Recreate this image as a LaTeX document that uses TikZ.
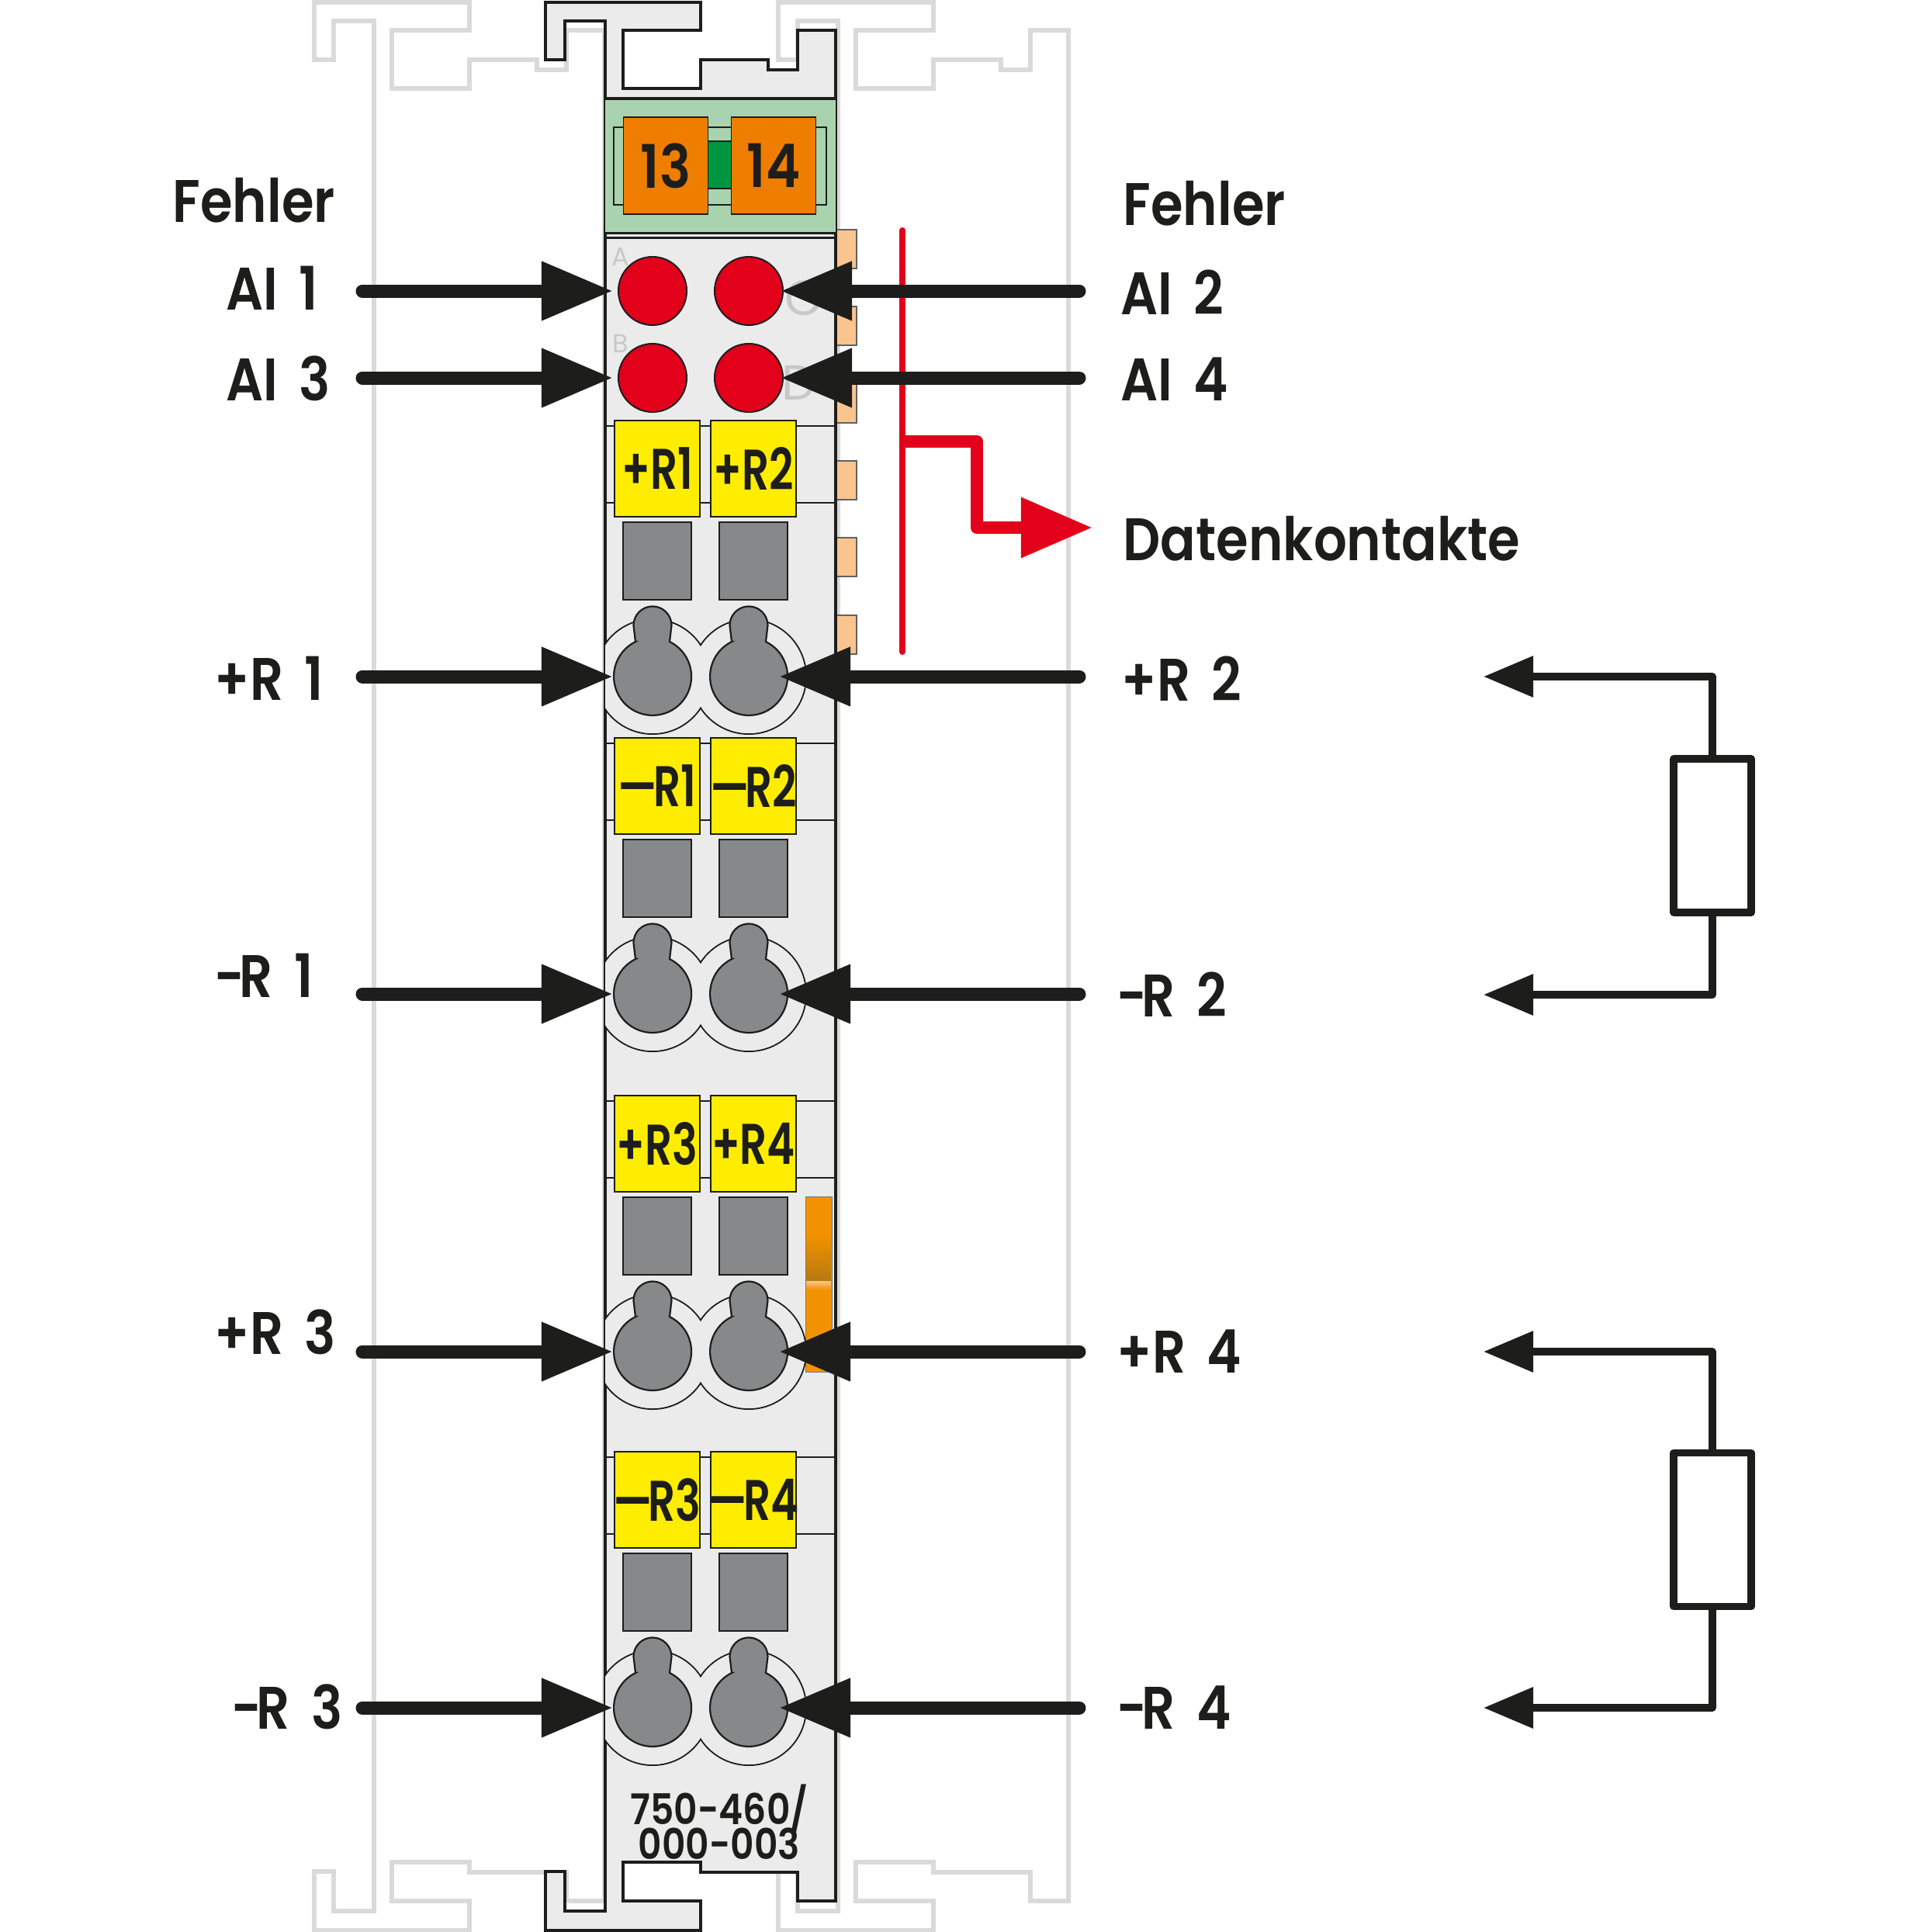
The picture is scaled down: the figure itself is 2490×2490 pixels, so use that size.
\documentclass[tikz,border=0pt]{standalone}
\usepackage{fontspec}
\setmainfont{Poppins}
\newfontfamily\labelfont[FakeStretch=0.87,WordSpace=1.7]{Poppins SemiBold}
\newfontfamily\tagfont[FakeStretch=0.74]{Poppins SemiBold}
\newfontfamily\digitfont[FakeStretch=0.865]{Poppins SemiBold}
\usetikzlibrary{arrows.meta}
\definecolor{inkblack}{HTML}{1D1D1B}
\definecolor{ghostgrey}{HTML}{DADADB}
\definecolor{bodygrey}{HTML}{EBEBEC}
\definecolor{clampgrey}{HTML}{87888A}
\definecolor{tagyellow}{HTML}{FFED00}
\definecolor{ledred}{HTML}{E2001A}
\definecolor{tagorange}{HTML}{EF7D00}
\definecolor{sliderorange}{HTML}{F39200}
\definecolor{sliderbrown}{HTML}{B87A10}
\definecolor{tabpeach}{HTML}{F9C48E}
\definecolor{palegreen}{HTML}{A9D3AE}
\definecolor{darkgreen}{HTML}{009640}
\definecolor{lettergrey}{HTML}{C8C8C9}
\tikzset{
  ghostline/.style={draw=ghostgrey,line width=0.055cm},
  thinline/.style={draw=inkblack,line width=0.02cm},
  tabbox/.style={draw=inkblack!70,fill=tabpeach,line width=0.015cm},
  tagbox/.style={draw=inkblack,fill=tagyellow,line width=0.02cm,minimum width=1.1cm,minimum height=1.24cm,inner sep=0pt,text=inkblack,font=\tagfont\fontsize{21}{21}\selectfont},
  clampbox/.style={draw=inkblack,fill=clampgrey,line width=0.02cm,minimum width=0.88cm,minimum height=1cm,inner sep=0pt},
  numbox/.style={draw=inkblack,fill=tagorange,line width=0.015cm,minimum width=1.09cm,minimum height=1.25cm,inner sep=0pt,text=inkblack,font=\digitfont\fontsize{22}{22}\selectfont},
  led/.style={circle,draw=inkblack,fill=ledred,line width=0.02cm,minimum size=0.88cm,inner sep=0pt},
  knob/.style={draw=inkblack,fill=clampgrey,line width=0.022cm},
  wire/.style={draw=inkblack,line width=0.17cm,line cap=round,-{Triangle[length=0.92cm,width=0.72cm]}},
  backwire/.style={draw=inkblack,line width=0.095cm,line join=round,-{Triangle[length=0.64cm,width=0.51cm]}},
  resistor/.style={draw=inkblack,fill=white,line width=0.095cm,line join=round,minimum width=1cm,minimum height=1.98cm,inner sep=0pt},
  lbl/.style={anchor=base west,inner sep=0pt,text=inkblack,font=\labelfont\fontsize{22}{26}\selectfont},
  modeltext/.style={inner sep=0pt,align=center,text=inkblack,font=\digitfont\fontsize{15.5}{16}\selectfont},
  faint/.style={inner sep=0pt,text=lettergrey}
}
% outline of one module, also used for the neighbours
\newcommand{\railpath}{(703,3) -- (903,3) -- (903,39) -- (803,39) -- (803,114) -- (903,114) -- (903,77) -- (990,77) -- (990,90) -- (1028,90) -- (1028,39) -- (1077,39) -- (1077,2450) -- (1028,2450) -- (1028,2413) -- (903,2413) -- (903,2400) -- (803,2400) -- (803,2450) -- (903,2450) -- (903,2488) -- (703,2488) -- (703,2412) -- (728,2412) -- (728,2463) -- (780,2463) -- (780,27) -- (728,27) -- (728,77) -- (703,77) -- cycle}
\newcommand{\rdash}{—\kern-1.5pt}
\newcommand{\rminus}{-\kern-2pt}
\begin{document}
\begin{tikzpicture}[x=0.01cm,y=-0.01cm]
\useasboundingbox (0,0) rectangle (2490,2490);
% neighbours and module body
\foreach \dx in {-298,300}
  \draw[ghostline,shift={(\dx,0)}] \railpath;
\foreach \ty in {296,395,495,594,693,793}
  \draw[tabbox] (1070,\ty) rectangle (1104,\ty+50);
\draw[draw=inkblack,fill=bodygrey,line width=0.045cm,line join=miter] \railpath;
% marker strip
\fill[palegreen] (780,127) rectangle (1077,300);
\draw[draw=inkblack,line width=0.035cm] (780,127) -- (1077,127);
\draw[draw=inkblack,line width=0.03cm] (780,300) -- (1077,300);
\draw[draw=inkblack,line width=0.03cm] (780,306) -- (1077,306);
\draw[thinline,fill=palegreen] (791,164) rectangle (1065,264);
\draw[thinline,fill=darkgreen] (905,182) rectangle (950,243);
\node[numbox] (numA) at (858,213.5) {\raisebox{-0.9pt}{13}};
\node[numbox] (numB) at (997,213.5) {\raisebox{-0.9pt}{14}};
% letters and LEDs
\node[faint,font=\fontsize{9.5}{10}\selectfont] (letA) at (800,331) {A};
\node[faint,font=\fontsize{9.5}{10}\selectfont] (letB) at (800,443) {B};
\node[faint,font=\fontsize{18}{18}\selectfont] (letC) at (1036,384) {C};
\node[faint,font=\fontsize{18}{18}\selectfont] (letD) at (1030,493) {D};
\node[led] (ledA) at (841,375) {};
\node[led] (ledC) at (965,375) {};
\node[led] (ledB) at (841,487) {};
\node[led] (ledD) at (965,487) {};
% sliding marker
\draw[draw=inkblack!60,fill=sliderorange,line width=0.01cm] (1038,1542) rectangle (1072,1768);
\shade[top color=sliderorange,bottom color=sliderbrown] (1039,1590) rectangle (1071,1650);
\shade[top color=tabpeach,bottom color=sliderorange] (1039,1651) rectangle (1071,1662);
% the four terminal blocks
\foreach \n/\cy/\ta/\tb in {1/872/+R1/+R2,2/1281/\rdash R1/\rdash R2,3/1742/+R3/+R4,4/2201/\rdash R3/\rdash R4}{
  \begin{scope}[shift={(0,\cy-872)}]
    \draw[thinline] (780,549) -- (1076,549);
    \draw[thinline] (780,648) -- (1076,648);
    \begin{scope}
      \clip (780,780) rectangle (1076,960);
      \draw[thinline] (841,872) circle[radius=74];
      \draw[thinline] (965,872) circle[radius=74];
      \fill[bodygrey] (841,872) circle[radius=73];
      \fill[bodygrey] (965,872) circle[radius=73];
    \end{scope}
    \node[tagbox] (tagA\n) at (847,604) {\makebox[0pt][c]{\ta}};
    \node[tagbox] (tagB\n) at (971,604) {\makebox[0pt][c]{\tb}};
    \node[clampbox] (clampA\n) at (847,723) {};
    \node[clampbox] (clampB\n) at (971,723) {};
    \foreach \cx in {841,965}
      \draw[knob] (\cx-22,827) -- (\cx-24.5,806) arc (180:360:24.5) -- (\cx+22,827) arc (-64:244:50) -- cycle;
  \end{scope}
}
% data contact bus
\coordinate (busTop) at (1163,297);
\coordinate (busEnd) at (1163,840);
\coordinate (busTap) at (1163,569);
\coordinate (busBend) at (1259,569);
\coordinate (busLow) at (1259,680);
\coordinate (busTip) at (1408,680);
\draw[draw=ledred,line width=0.08cm,line cap=round] (busTop) -- (busEnd);
\draw[draw=ledred,line width=0.16cm,line join=round,-{Triangle[length=0.92cm,width=0.74cm]}] (busTap) -- (busBend) -- (busLow) -- (busTip);
% input arrows
\foreach \n/\y/\tipr in {1/375/1006,2/487/1006,3/872/1004,4/1281/1004,5/1742/1004,6/2201/1004}{
  \coordinate (startL\n) at (467,\y);
  \coordinate (tipL\n) at (790,\y);
  \coordinate (startR\n) at (1391,\y);
  \coordinate (tipR\n) at (\tipr,\y);
  \draw[wire] (startL\n) -- (tipL\n);
  \draw[wire] (startR\n) -- (tipR\n);
}
% external resistors
\foreach \n/\ya/\yb in {1/872/1282,2/1742/2201}{
  \node[resistor] (res\n) at (2207,{(\ya+\yb)/2}) {};
  \coordinate (retA\n) at (1912,\ya);
  \coordinate (retB\n) at (1912,\yb);
  \draw[backwire] (res\n.north) |- (retA\n);
  \draw[backwire] (res\n.south) |- (retB\n);
}
% labels
\foreach \n/\x/\y/\txt in {a/222/286/Fehler,b/291/399/AI 1,c/291/516/AI 3,d/276/902/+R 1,e/276/1285/\rminus R 1,f/276/1745/+R 3,g/298/2228/\rminus R 3,h/1447/290/Fehler,i/1444/405/AI 2,j/1444/516/AI 4,k/1447/722/Datenkontakte,m/1445/903/+R 2,o/1439/1310/\rminus R 2,p/1439/1769/+R 4,q/1439/2228/\rminus R 4}
  \node[lbl] (label\n) at (\x,\y) {\txt};
\node[modeltext] (model) at (927,2348) {750-460/\\[-3.1pt]000-003};
\end{tikzpicture}
\end{document}
